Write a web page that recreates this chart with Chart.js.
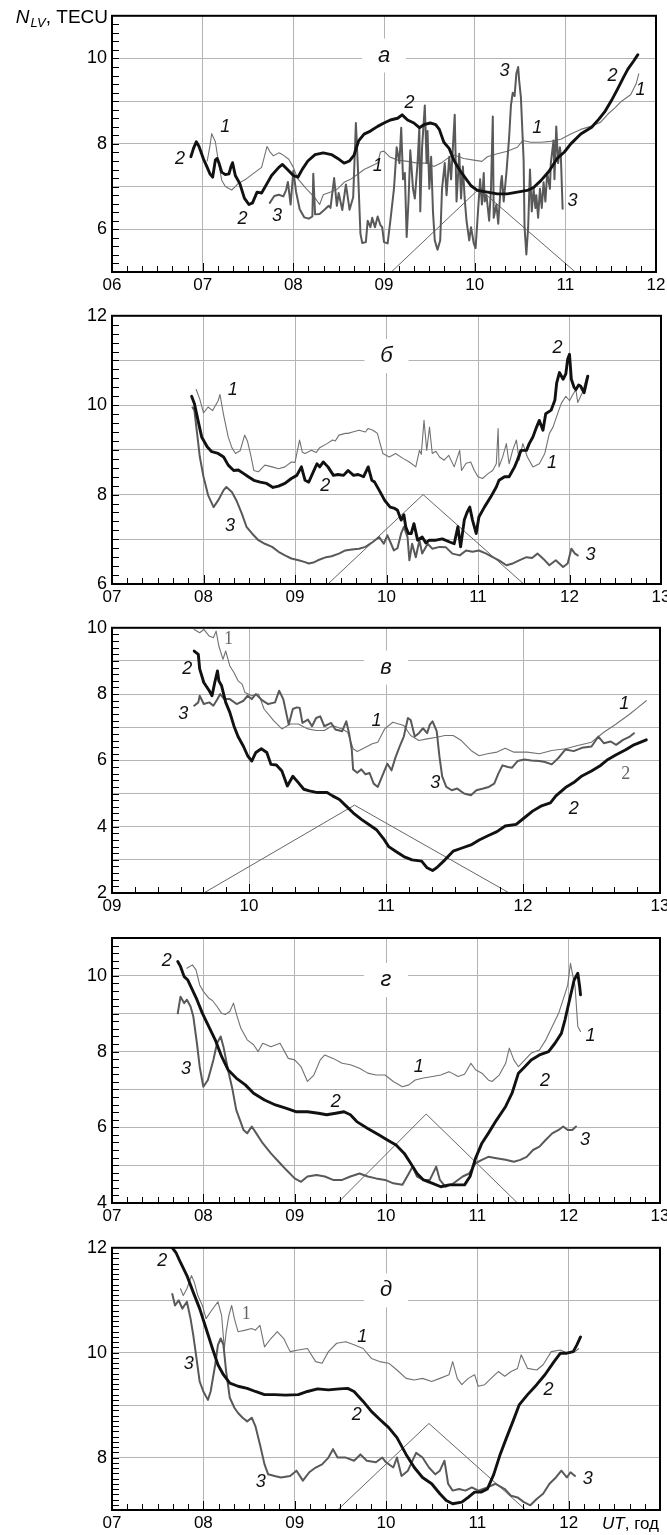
<!DOCTYPE html>
<html><head><meta charset="utf-8">
<script src="https://cdn.jsdelivr.net/npm/chart.js@4.4.1/dist/chart.umd.min.js"></script>
<style>
html,body{margin:0;padding:0;background:#fff;width:667px;height:1535px;overflow:hidden;position:relative}
canvas{position:absolute;left:0}
</style>
</head><body>
<script>
// ---------- DATA (time UT hours, N_LV TECU) ----------
// Panel а
const A1 = [[7.05,7.60],[7.08,7.95],[7.10,8.24],[7.14,8.05],[7.18,7.50],[7.21,7.15],[7.25,7.00],[7.32,6.92],[7.36,7.00],[7.39,7.07],[7.48,7.18],[7.58,7.34],[7.65,7.45],[7.71,7.94],[7.74,7.82],[7.78,7.72],[7.84,7.79],[7.88,7.75],[7.95,7.64],[8.00,7.45],[8.05,7.18],[8.14,6.96],[8.24,6.73],[8.29,6.58],[8.33,6.81],[8.42,6.88],[8.49,6.95],[8.56,7.10],[8.63,7.17],[8.71,7.29],[8.78,7.40],[8.85,7.47],[8.93,7.55],[8.96,7.81],[9.00,7.83],[9.06,7.70],[9.15,7.62],[9.26,7.59],[9.37,7.55],[9.48,7.55],[9.55,7.47],[9.63,7.55],[9.70,7.66],[9.77,7.74],[9.88,7.66],[9.99,7.62],[10.08,7.59],[10.14,7.70],[10.25,7.77],[10.36,7.83],[10.47,7.92],[10.53,8.08],[10.62,8.04],[10.73,8.04],[10.84,8.06],[10.95,8.11],[11.06,8.23],[11.17,8.34],[11.28,8.41],[11.39,8.51],[11.47,8.70],[11.55,8.85],[11.62,9.00],[11.72,9.15],[11.78,9.40],[11.81,9.64]];
const A2 = [[6.87,7.70],[6.90,7.90],[6.93,8.05],[6.96,7.94],[7.01,7.64],[7.05,7.45],[7.08,7.30],[7.11,7.22],[7.14,7.62],[7.16,7.66],[7.18,7.55],[7.21,7.34],[7.25,7.28],[7.29,7.30],[7.31,7.45],[7.33,7.56],[7.36,7.26],[7.41,7.07],[7.46,6.73],[7.51,6.58],[7.55,6.62],[7.60,6.87],[7.65,6.85],[7.72,7.11],[7.76,7.26],[7.84,7.45],[7.88,7.52],[7.93,7.41],[8.00,7.26],[8.05,7.22],[8.10,7.41],[8.16,7.60],[8.24,7.75],[8.33,7.79],[8.42,7.75],[8.49,7.66],[8.56,7.55],[8.62,7.60],[8.67,7.74],[8.72,8.07],[8.78,8.23],[8.85,8.30],[8.93,8.41],[9.00,8.49],[9.07,8.56],[9.15,8.60],[9.20,8.68],[9.26,8.56],[9.33,8.49],[9.39,8.38],[9.44,8.45],[9.51,8.49],[9.57,8.45],[9.61,8.34],[9.66,8.04],[9.72,7.89],[9.77,7.62],[9.83,7.40],[9.88,7.25],[9.96,7.02],[10.03,6.91],[10.14,6.87],[10.25,6.83],[10.36,6.83],[10.47,6.87],[10.58,6.91],[10.65,6.98],[10.73,7.14],[10.82,7.36],[10.91,7.66],[10.99,7.81],[11.06,8.00],[11.17,8.23],[11.29,8.39],[11.37,8.58],[11.44,8.77],[11.51,9.02],[11.58,9.30],[11.64,9.55],[11.69,9.75],[11.75,9.93],[11.80,10.09]];
const A3 = [[7.74,6.62],[7.79,6.78],[7.84,6.81],[7.89,6.77],[7.92,6.92],[7.94,7.11],[7.97,6.58],[8.00,7.37],[8.03,6.88],[8.07,6.47],[8.12,6.28],[8.17,6.25],[8.21,6.30],[8.22,7.30],[8.24,6.35],[8.29,6.36],[8.34,6.45],[8.39,6.55],[8.41,6.50],[8.45,7.20],[8.48,6.55],[8.50,6.85],[8.54,6.45],[8.58,7.05],[8.62,6.46],[8.66,6.75],[8.69,8.49],[8.71,7.55],[8.74,5.90],[8.76,5.68],[8.80,5.70],[8.82,6.20],[8.85,6.05],[8.87,6.27],[8.90,6.05],[8.93,6.30],[8.96,6.10],[8.98,6.05],[9.00,5.70],[9.04,5.67],[9.07,6.20],[9.11,6.95],[9.14,7.92],[9.17,7.55],[9.19,8.38],[9.21,7.17],[9.23,7.32],[9.25,5.82],[9.27,6.65],[9.29,7.85],[9.32,6.95],[9.34,6.72],[9.37,7.55],[9.39,8.38],[9.40,6.42],[9.42,7.92],[9.45,8.90],[9.47,7.55],[9.48,8.30],[9.50,6.95],[9.52,7.70],[9.54,6.42],[9.56,5.74],[9.59,5.52],[9.62,5.74],[9.64,6.95],[9.67,7.55],[9.69,6.80],[9.72,7.70],[9.74,7.17],[9.75,7.55],[9.78,8.68],[9.80,6.65],[9.83,7.77],[9.85,6.72],[9.87,7.47],[9.89,6.72],[9.91,6.20],[9.94,5.74],[9.96,6.05],[9.99,5.67],[10.01,5.56],[10.03,6.20],[10.06,7.17],[10.08,6.58],[10.10,7.32],[10.11,6.65],[10.13,6.80],[10.16,6.20],[10.18,6.95],[10.20,8.64],[10.21,6.27],[10.24,6.58],[10.26,6.13],[10.29,7.10],[10.30,7.25],[10.32,6.65],[10.35,7.32],[10.38,8.15],[10.40,8.90],[10.42,9.20],[10.44,9.12],[10.46,9.65],[10.48,9.80],[10.49,9.50],[10.51,9.09],[10.54,7.62],[10.55,6.05],[10.57,5.41],[10.59,6.05],[10.61,7.40],[10.63,6.42],[10.65,6.95],[10.67,6.50],[10.68,6.80],[10.70,6.27],[10.72,6.95],[10.74,6.50],[10.76,7.10],[10.78,6.65],[10.80,7.32],[10.83,6.95],[10.84,7.55],[10.87,8.08],[10.88,7.17],[10.90,8.41],[10.92,7.55],[10.94,7.92],[10.95,7.75],[10.97,6.48]];
const ATRI = [[9.08,5],[10.05,6.95],[11.11,5]];
// Panel б
const B1 = [[7.92,10.35],[7.96,10.13],[8.00,9.83],[8.05,9.96],[8.10,9.88],[8.16,10.10],[8.18,10.24],[8.22,9.78],[8.27,9.29],[8.31,9.05],[8.35,8.92],[8.40,8.98],[8.45,9.33],[8.48,9.20],[8.52,8.85],[8.55,8.54],[8.60,8.51],[8.67,8.66],[8.75,8.62],[8.82,8.58],[8.89,8.62],[8.96,8.73],[9.00,8.72],[9.05,9.22],[9.08,8.95],[9.11,8.92],[9.18,8.99],[9.23,8.94],[9.27,9.05],[9.35,9.14],[9.41,9.22],[9.44,9.20],[9.48,9.33],[9.55,9.37],[9.58,9.37],[9.63,9.40],[9.70,9.44],[9.77,9.40],[9.80,9.48],[9.85,9.44],[9.88,9.40],[9.90,9.37],[9.96,8.92],[10.03,8.84],[10.10,8.92],[10.18,8.81],[10.25,8.73],[10.32,8.62],[10.36,8.99],[10.38,8.90],[10.41,9.66],[10.44,8.99],[10.47,9.51],[10.50,8.92],[10.54,8.97],[10.58,8.84],[10.63,8.77],[10.68,8.88],[10.74,8.62],[10.80,8.99],[10.82,8.54],[10.87,8.70],[10.92,8.73],[10.96,8.54],[11.00,8.40],[11.05,8.36],[11.11,8.47],[11.16,8.54],[11.20,8.69],[11.22,9.48],[11.23,8.62],[11.27,8.85],[11.31,9.14],[11.34,8.69],[11.38,9.00],[11.42,9.22],[11.45,8.77],[11.49,9.14],[11.54,8.84],[11.60,8.62],[11.67,8.69],[11.73,8.92],[11.78,9.37],[11.82,9.51],[11.87,9.81],[11.91,10.04],[11.96,10.20],[12.00,10.10],[12.04,10.25],[12.07,10.35],[12.09,10.06],[12.14,10.28],[12.19,10.65]];
const B2 = [[7.87,10.20],[7.90,10.04],[7.94,9.66],[7.98,9.29],[8.04,9.07],[8.09,8.96],[8.16,8.92],[8.22,8.84],[8.27,8.66],[8.33,8.54],[8.38,8.55],[8.44,8.47],[8.49,8.40],[8.55,8.32],[8.62,8.28],[8.69,8.25],[8.76,8.16],[8.82,8.19],[8.89,8.25],[8.96,8.36],[9.02,8.43],[9.07,8.62],[9.11,8.32],[9.15,8.28],[9.20,8.51],[9.24,8.69],[9.27,8.62],[9.31,8.73],[9.36,8.62],[9.42,8.43],[9.47,8.45],[9.53,8.43],[9.58,8.54],[9.64,8.43],[9.69,8.45],[9.75,8.40],[9.80,8.62],[9.84,8.32],[9.87,8.28],[9.93,8.06],[9.98,7.87],[10.04,7.72],[10.09,7.69],[10.12,7.65],[10.16,7.43],[10.19,7.55],[10.21,7.28],[10.24,7.13],[10.27,7.13],[10.30,7.35],[10.34,6.98],[10.39,7.05],[10.43,6.92],[10.47,6.98],[10.54,6.98],[10.61,7.01],[10.69,6.94],[10.74,6.90],[10.78,7.28],[10.81,6.83],[10.85,7.43],[10.88,7.60],[10.91,7.72],[10.94,7.43],[10.98,7.13],[11.01,7.50],[11.07,7.72],[11.14,7.95],[11.20,8.17],[11.23,8.32],[11.29,8.40],[11.34,8.40],[11.40,8.62],[11.43,8.77],[11.47,8.99],[11.53,8.99],[11.56,9.14],[11.60,9.29],[11.64,9.51],[11.67,9.66],[11.71,9.44],[11.74,9.81],[11.80,9.89],[11.84,10.11],[11.86,10.50],[11.89,10.73],[11.93,10.58],[11.96,10.70],[11.98,11.03],[12.00,11.14],[12.02,10.58],[12.05,10.40],[12.07,10.35],[12.10,10.45],[12.12,10.43],[12.16,10.28],[12.20,10.65]];
const B3 = [[7.88,9.95],[7.90,9.89],[7.93,9.37],[7.96,8.84],[8.00,8.40],[8.05,7.99],[8.11,7.72],[8.16,7.87],[8.22,8.10],[8.25,8.17],[8.31,8.06],[8.36,7.87],[8.42,7.57],[8.47,7.28],[8.53,7.13],[8.60,6.98],[8.67,6.90],[8.75,6.83],[8.82,6.72],[8.89,6.64],[8.96,6.57],[9.04,6.53],[9.11,6.49],[9.15,6.46],[9.20,6.48],[9.25,6.53],[9.34,6.60],[9.40,6.62],[9.48,6.68],[9.55,6.75],[9.62,6.77],[9.70,6.79],[9.77,6.83],[9.85,6.94],[9.92,7.05],[9.97,6.90],[10.01,7.09],[10.05,6.90],[10.08,6.75],[10.12,6.80],[10.16,7.13],[10.19,7.28],[10.23,7.05],[10.25,6.53],[10.28,6.90],[10.32,6.60],[10.36,6.98],[10.39,6.68],[10.45,6.90],[10.50,6.79],[10.58,6.83],[10.65,6.82],[10.72,6.68],[10.80,6.64],[10.87,6.75],[10.94,6.72],[11.01,6.75],[11.09,6.68],[11.16,6.60],[11.23,6.53],[11.31,6.42],[11.38,6.46],[11.45,6.53],[11.53,6.60],[11.59,6.58],[11.65,6.68],[11.73,6.53],[11.78,6.42],[11.85,6.53],[11.93,6.38],[11.98,6.46],[12.02,6.79],[12.06,6.68],[12.09,6.64]];
const BTRI = [[9.36,6],[10.40,8.0],[11.50,6]];
// Panel в
const V1 = [[9.60,9.95],[9.64,9.85],[9.67,9.95],[9.71,9.75],[9.74,9.70],[9.76,9.90],[9.78,9.45],[9.81,9.05],[9.83,9.30],[9.86,8.85],[9.89,8.65],[9.92,8.40],[9.95,8.30],[9.97,8.05],[10.02,7.95],[10.07,8.00],[10.11,7.55],[10.18,7.20],[10.24,6.95],[10.30,7.10],[10.36,7.10],[10.43,6.95],[10.49,6.90],[10.55,6.90],[10.61,7.05],[10.68,6.95],[10.72,6.85],[10.76,6.35],[10.79,6.27],[10.83,6.35],[10.90,6.50],[10.94,6.55],[10.99,6.95],[11.05,7.15],[11.13,7.05],[11.18,6.75],[11.24,6.60],[11.30,6.65],[11.37,6.70],[11.43,6.75],[11.49,6.75],[11.55,6.60],[11.62,6.30],[11.68,6.14],[11.74,6.20],[11.81,6.25],[11.87,6.37],[11.93,6.25],[12.03,6.25],[12.12,6.20],[12.21,6.30],[12.31,6.35],[12.40,6.45],[12.50,6.55],[12.59,6.85],[12.68,7.10],[12.78,7.40],[12.84,7.60],[12.90,7.80]];
const V2 = [[9.60,9.30],[9.63,9.20],[9.64,8.76],[9.67,8.35],[9.71,8.10],[9.73,7.95],[9.75,8.35],[9.77,8.70],[9.78,8.40],[9.80,8.25],[9.83,7.75],[9.86,7.45],[9.89,7.04],[9.92,6.72],[9.96,6.42],[9.99,6.14],[10.02,5.98],[10.05,6.24],[10.09,6.35],[10.13,6.24],[10.16,5.88],[10.20,5.86],[10.24,5.68],[10.28,5.23],[10.32,5.52],[10.36,5.33],[10.40,5.13],[10.44,5.08],[10.50,5.03],[10.57,5.03],[10.61,4.93],[10.66,4.82],[10.71,4.62],[10.76,4.42],[10.82,4.22],[10.88,4.05],[10.93,3.91],[10.98,3.65],[11.02,3.40],[11.07,3.26],[11.13,3.10],[11.19,3.00],[11.26,2.96],[11.30,2.76],[11.34,2.68],[11.37,2.76],[11.43,3.00],[11.49,3.26],[11.55,3.35],[11.62,3.45],[11.68,3.60],[11.74,3.72],[11.81,3.85],[11.87,4.02],[11.95,4.07],[12.01,4.27],[12.07,4.47],[12.13,4.62],[12.20,4.72],[12.24,4.93],[12.31,5.18],[12.37,5.33],[12.43,5.53],[12.50,5.68],[12.56,5.83],[12.62,6.03],[12.68,6.17],[12.75,6.32],[12.81,6.47],[12.90,6.62]];
const V3 = [[9.60,7.65],[9.63,7.75],[9.64,7.95],[9.67,7.70],[9.71,7.75],[9.74,7.65],[9.77,7.85],[9.79,8.00],[9.82,7.85],[9.86,7.85],[9.91,7.70],[9.96,7.80],[9.99,7.95],[10.02,7.85],[10.05,8.00],[10.10,7.80],[10.14,7.70],[10.19,7.75],[10.22,8.10],[10.25,7.85],[10.29,7.08],[10.32,7.55],[10.35,7.60],[10.37,7.58],[10.39,7.13],[10.43,7.23],[10.46,7.03],[10.49,7.28],[10.52,7.33],[10.55,7.03],[10.60,7.13],[10.63,6.93],[10.68,6.88],[10.71,7.18],[10.73,6.83],[10.75,6.33],[10.76,5.73],[10.79,5.63],[10.82,5.73],[10.85,5.58],[10.88,5.62],[10.91,5.30],[10.94,5.20],[10.97,5.50],[11.01,5.90],[11.04,5.70],[11.07,6.10],[11.10,6.42],[11.13,6.72],[11.16,7.28],[11.18,7.22],[11.21,6.72],[11.24,6.82],[11.27,6.97],[11.30,6.82],[11.32,7.08],[11.34,7.18],[11.37,6.88],[11.39,6.12],[11.41,5.52],[11.44,5.20],[11.48,5.10],[11.52,5.15],[11.57,5.00],[11.62,4.95],[11.66,5.10],[11.71,5.15],[11.75,5.20],[11.79,5.30],[11.82,5.60],[11.85,5.85],[11.89,5.80],[11.92,5.78],[11.96,5.98],[12.01,6.03],[12.06,6.00],[12.12,5.98],[12.16,5.95],[12.21,5.88],[12.26,6.08],[12.31,6.33],[12.37,6.28],[12.43,6.38],[12.50,6.42],[12.55,6.72],[12.59,6.52],[12.64,6.57],[12.68,6.47],[12.73,6.62],[12.78,6.72],[12.81,6.82]];
const VTRI = [[9.67,2],[10.77,4.65],[11.90,2]];
// Panel г
const G1 = [[7.82,10.20],[7.88,10.29],[7.92,10.16],[7.96,9.76],[8.00,9.59],[8.06,9.41],[8.10,9.35],[8.15,9.19],[8.20,9.01],[8.24,8.98],[8.29,9.06],[8.33,9.28],[8.36,9.01],[8.41,8.62],[8.48,8.31],[8.55,8.18],[8.60,8.00],[8.65,8.22],[8.74,8.13],[8.84,8.22],[8.93,7.82],[9.00,7.78],[9.07,7.60],[9.14,7.21],[9.21,7.38],[9.28,7.78],[9.33,7.91],[9.42,7.82],[9.52,7.69],[9.61,7.65],[9.71,7.56],[9.80,7.43],[9.89,7.38],[9.99,7.38],[10.08,7.21],[10.18,7.07],[10.25,7.12],[10.32,7.25],[10.41,7.30],[10.51,7.34],[10.60,7.38],[10.69,7.47],[10.79,7.34],[10.86,7.40],[10.93,7.69],[10.98,7.52],[11.05,7.43],[11.12,7.25],[11.16,7.21],[11.24,7.38],[11.31,7.69],[11.35,8.09],[11.40,7.78],[11.45,7.60],[11.52,7.78],[11.59,7.96],[11.68,8.04],[11.75,8.31],[11.82,8.66],[11.89,9.01],[11.95,9.45],[11.99,9.76],[12.02,10.33],[12.04,10.07],[12.07,9.72],[12.10,8.66],[12.13,8.53]];
const G2 = [[7.72,10.38],[7.75,10.25],[7.79,9.98],[7.83,9.89],[7.88,9.63],[7.93,9.37],[7.99,9.01],[8.06,8.66],[8.13,8.31],[8.20,7.87],[8.27,7.52],[8.36,7.30],[8.46,7.12],[8.55,6.90],[8.67,6.72],[8.79,6.59],[8.91,6.50],[9.02,6.41],[9.14,6.41],[9.26,6.37],[9.35,6.33],[9.45,6.37],[9.54,6.41],[9.61,6.33],[9.68,6.15],[9.80,5.97],[9.92,5.80],[10.01,5.67],[10.11,5.53],[10.20,5.31],[10.27,5.05],[10.34,4.78],[10.41,4.61],[10.51,4.52],[10.60,4.43],[10.69,4.48],[10.79,4.48],[10.86,4.48],[10.92,4.70],[10.98,5.18],[11.05,5.58],[11.12,5.84],[11.21,6.19],[11.31,6.55],[11.38,6.90],[11.45,7.43],[11.52,7.60],[11.59,7.78],[11.68,7.91],[11.78,8.00],[11.85,8.22],[11.92,8.48],[11.96,8.84],[12.01,9.37],[12.06,9.89],[12.10,10.07],[12.12,9.72],[12.13,9.50]];
const G3 = [[7.72,9.01],[7.75,9.45],[7.79,9.28],[7.82,9.37],[7.86,9.19],[7.89,8.93],[7.93,8.22],[7.96,7.60],[8.00,7.07],[8.05,7.25],[8.11,7.78],[8.15,8.22],[8.19,8.40],[8.22,8.13],[8.27,7.52],[8.32,6.99],[8.36,6.46],[8.44,5.93],[8.48,5.84],[8.53,6.02],[8.58,5.84],[8.65,5.58],[8.74,5.31],[8.84,5.05],[8.91,4.87],[9.00,4.65],[9.07,4.56],[9.14,4.70],[9.24,4.74],[9.33,4.70],[9.42,4.61],[9.52,4.61],[9.61,4.70],[9.71,4.78],[9.80,4.70],[9.89,4.65],[9.99,4.61],[10.08,4.52],[10.18,4.48],[10.25,4.78],[10.29,4.96],[10.34,4.70],[10.41,4.61],[10.48,4.61],[10.55,4.96],[10.59,4.61],[10.65,4.43],[10.74,4.52],[10.84,4.70],[10.91,4.78],[10.98,5.05],[11.05,5.14],[11.12,5.22],[11.21,5.18],[11.31,5.14],[11.40,5.09],[11.47,5.14],[11.54,5.22],[11.61,5.40],[11.68,5.49],[11.75,5.67],[11.82,5.84],[11.89,5.93],[11.94,6.02],[11.99,5.93],[12.04,5.93],[12.08,6.02]];
const GTRI = [[9.47,4],[10.44,6.35],[11.44,4]];
// Panel д
const D1 = [[7.75,11.22],[7.78,11.09],[7.82,11.22],[7.87,11.47],[7.90,11.35],[7.94,11.09],[7.99,10.90],[8.03,10.65],[8.08,10.78],[8.13,10.90],[8.16,10.97],[8.20,10.71],[8.23,10.08],[8.25,10.40],[8.28,10.71],[8.31,10.90],[8.34,10.65],[8.38,10.40],[8.46,10.43],[8.53,10.46],[8.57,10.43],[8.62,10.52],[8.67,10.11],[8.74,10.27],[8.81,10.40],[8.88,10.27],[8.95,10.02],[9.04,10.05],[9.14,10.08],[9.23,9.83],[9.30,9.80],[9.37,10.02],[9.46,10.18],[9.56,10.21],[9.65,10.15],[9.75,10.08],[9.84,9.89],[9.93,9.83],[10.03,9.80],[10.12,9.67],[10.22,9.51],[10.31,9.48],[10.40,9.51],[10.50,9.45],[10.59,9.51],[10.69,9.58],[10.73,9.83],[10.78,9.51],[10.83,9.39],[10.90,9.51],[10.97,9.58],[11.01,9.36],[11.08,9.39],[11.15,9.51],[11.23,9.64],[11.30,9.55],[11.37,9.64],[11.44,9.70],[11.48,9.96],[11.55,9.70],[11.65,9.67],[11.72,9.77],[11.81,10.02],[11.91,10.05],[11.99,9.99],[12.07,10.02],[12.11,10.08]];
const D2 = [[7.66,12.00],[7.70,11.91],[7.75,11.72],[7.82,11.47],[7.89,11.15],[7.96,10.84],[8.03,10.46],[8.10,10.08],[8.16,9.77],[8.22,9.58],[8.29,9.42],[8.38,9.36],[8.48,9.32],[8.57,9.26],[8.67,9.20],[8.78,9.20],[8.90,9.19],[9.04,9.20],[9.14,9.26],[9.25,9.31],[9.37,9.29],[9.49,9.31],[9.58,9.32],[9.65,9.26],[9.75,9.07],[9.84,8.88],[9.93,8.73],[10.03,8.57],[10.12,8.38],[10.22,8.06],[10.31,7.81],[10.40,7.62],[10.50,7.50],[10.59,7.31],[10.66,7.18],[10.73,7.12],[10.83,7.15],[10.90,7.24],[10.97,7.34],[11.04,7.34],[11.11,7.40],[11.18,7.68],[11.25,8.06],[11.32,8.38],[11.39,8.69],[11.46,9.01],[11.55,9.20],[11.65,9.39],[11.74,9.58],[11.84,9.83],[11.91,9.99],[11.98,9.99],[12.05,10.02],[12.09,10.15],[12.13,10.30]];
const D3 = [[7.66,11.12],[7.69,10.90],[7.73,11.00],[7.77,10.84],[7.82,10.97],[7.86,10.65],[7.89,10.33],[7.92,9.96],[7.96,9.45],[8.00,9.26],[8.05,9.10],[8.08,9.26],[8.13,9.77],[8.16,10.15],[8.19,10.27],[8.22,10.15],[8.25,9.64],[8.29,9.14],[8.34,8.95],[8.38,8.85],[8.43,8.76],[8.48,8.69],[8.53,8.76],[8.57,8.60],[8.62,8.25],[8.67,7.87],[8.71,7.68],[8.78,7.65],[8.85,7.62],[8.95,7.65],[9.02,7.75],[9.09,7.56],[9.16,7.72],[9.23,7.81],[9.30,7.87],[9.37,8.00],[9.42,8.16],[9.47,8.00],[9.56,8.00],[9.65,7.94],[9.72,8.06],[9.79,7.94],[9.89,7.91],[9.96,8.00],[10.00,7.91],[10.08,7.81],[10.12,8.00],[10.17,7.65],[10.24,7.75],[10.29,7.94],[10.33,8.09],[10.40,8.00],[10.47,7.81],[10.54,7.68],[10.59,7.75],[10.64,7.94],[10.68,7.50],[10.73,7.37],[10.80,7.40],[10.87,7.37],[10.94,7.43],[11.01,7.37],[11.11,7.43],[11.20,7.50],[11.30,7.40],[11.37,7.27],[11.44,7.24],[11.51,7.15],[11.58,7.09],[11.65,7.21],[11.72,7.31],[11.79,7.50],[11.86,7.62],[11.92,7.75],[11.98,7.62],[12.02,7.72],[12.07,7.65]];
const DTRI = [[9.47,7],[10.47,8.65],[11.53,7]];

// Curve-label text and positions (data coordinates)
const LABELS_A = [['1',7.25,8.39],['2',6.75,7.64],['2',7.44,6.24],['3',7.82,6.32],['1',8.93,7.49],['2',9.28,8.96],['3',10.33,9.71],['1',10.69,8.38],['3',11.08,6.66],['2',11.52,9.58],['1',11.83,9.26]];
const LABELS_B = [['1',8.32,10.35],['2',11.87,11.29],['1',11.81,8.71],['2',9.33,8.19],['3',8.29,7.29],['3',12.23,6.65]];
const LABELS_V = [['1',9.85,9.66,'g'],['2',9.55,8.76],['3',9.52,7.40],['1',10.93,7.19],['3',11.36,5.33],['1',12.74,7.70],['2',12.75,5.58,'g'],['2',12.37,4.52]];
const LABELS_G = [['2',7.60,10.38],['3',7.81,7.53],['1',10.36,7.60],['2',9.45,6.68],['1',12.24,8.40],['2',11.74,7.21],['3',12.18,5.67]];
const LABELS_D = [['2',7.55,11.75],['3',7.84,9.78],['1',8.47,10.74,'g'],['1',9.74,10.30],['2',9.68,8.82],['3',8.63,7.53],['2',11.78,9.29],['3',12.21,7.59]];

const FONT = '"Liberation Sans", Arial, Helvetica, sans-serif';
Chart.defaults.font.family = FONT;

const PANELS = [
  {id:'a', cTop:0,    top:8,    bottom:272,  right:656, xmin:6, xmax:12, ymin:5, ymax:11, ym:0.2, c1:A1, c2:A2, c3:A3, tri:ATRI, labels:LABELS_A, letter:['а',9,10.07], head:true},
  {id:'b', cTop:300,  top:315,  bottom:584,  right:661, xmin:7, xmax:13, ymin:6, ymax:12, ym:0.2, c1:B1, c2:B2, c3:B3, tri:BTRI, labels:LABELS_B, letter:['б',10,11.1]},
  {id:'v', cTop:612,  top:627,  bottom:893,  right:660, xmin:9, xmax:13, ymin:2, ymax:10, ym:0.2, c1:V1, c2:V2, c3:V3, tri:VTRI, labels:LABELS_V, letter:['в',11,8.8]},
  {id:'g', cTop:922,  top:938,  bottom:1203, right:660, xmin:7, xmax:13, ymin:4, ymax:11, ym:0.2, c1:G1, c2:G2, c3:G3, tri:GTRI, labels:LABELS_G, letter:['г',10,9.89]},
  {id:'d', cTop:1232, top:1247, bottom:1510, right:660, xmin:7, xmax:13, ymin:7, ymax:12, ym:0.1, c1:D1, c2:D2, c3:D3, tri:DTRI, labels:LABELS_D, letter:['д',10,11.19], foot:true}
];

const pts = a => a.map(([x,y]) => ({x, y}));

function decor(p) {
  return {
    id: 'decor_' + p.id,
    beforeDatasetsDraw(chart) {
      const {ctx, scales:{x, y}} = chart;
      const cx = x.getPixelForValue(p.letter[1]), cy = y.getPixelForValue(p.letter[2]);
      ctx.save();
      ctx.fillStyle = '#fff';
      ctx.fillRect(cx - 22, cy - 17, 44, 34);
      ctx.fillStyle = '#111';
      ctx.font = 'italic 22px ' + FONT;
      ctx.textAlign = 'center'; ctx.textBaseline = 'middle';
      ctx.fillText(p.letter[0], cx, cy);
      ctx.restore();
    },
    afterDatasetsDraw(chart) {
      const {ctx, chartArea:a, scales:{x, y}} = chart;
      ctx.save();
      ctx.strokeStyle = '#000'; ctx.lineWidth = 1;
      ctx.beginPath();
      const nx = Math.round((p.xmax - p.xmin) * 6);
      for (let i = 1; i < nx; i++) {
        const px = Math.round(x.getPixelForValue(p.xmin + i / 6)) + 0.5;
        ctx.moveTo(px, a.bottom); ctx.lineTo(px, a.bottom - (i % 6 === 0 ? 9 : 6));
      }
      const ny = Math.round((p.ymax - p.ymin) / p.ym);
      for (let j = 1; j < ny; j++) {
        const py = Math.round(y.getPixelForValue(p.ymin + j * p.ym)) + 0.5;
        ctx.moveTo(a.left, py); ctx.lineTo(a.left + 7, py);
      }
      ctx.stroke();
      ctx.lineWidth = 2;
      ctx.strokeRect(a.left, a.top, a.right - a.left, a.bottom - a.top);
      ctx.textAlign = 'center'; ctx.textBaseline = 'middle';
      for (const [t, lx, ly, st] of p.labels) {
        if (st === 'g') { ctx.font = '18px "Liberation Serif", "Times New Roman", serif'; ctx.fillStyle = '#666'; }
        else { ctx.font = 'italic 18px ' + FONT; ctx.fillStyle = '#111'; }
        ctx.fillText(t, x.getPixelForValue(lx), y.getPixelForValue(ly));
      }
      ctx.restore();
    },
    afterDraw(chart) {
      const {ctx, chartArea:a} = chart;
      ctx.save();
      ctx.fillStyle = '#000'; ctx.textBaseline = 'alphabetic'; ctx.textAlign = 'left';
      if (p.head) {
        const f1 = 'italic 19px ' + FONT, f2 = 'italic 13px ' + FONT, f3 = '19px ' + FONT;
        ctx.font = f1; const w1 = ctx.measureText('N').width;
        ctx.font = f2; const w2 = ctx.measureText('LV').width;
        ctx.font = f3; const w3 = ctx.measureText(', TECU').width;
        let sx = a.left - 4 - (w1 + w2 + w3 + 1);
        const base = 23;
        ctx.font = f1; ctx.fillText('N', sx, base); sx += w1 + 1;
        ctx.font = f2; ctx.fillText('LV', sx, base + 4); sx += w2;
        ctx.font = f3; ctx.fillText(', TECU', sx, base);
      }
      if (p.foot) {
        const f1 = 'italic 17px ' + FONT, f2 = '17px ' + FONT;
        ctx.font = f1; const w1 = ctx.measureText('UT').width;
        ctx.font = f2; const w2 = ctx.measureText(', год').width;
        let sx = a.right - 1 - (w1 + w2);
        const base = a.bottom + 19;
        ctx.font = f1; ctx.fillText('UT', sx, base); sx += w1;
        ctx.font = f2; ctx.fillText(', год', sx, base);
      }
      ctx.restore();
    }
  };
}

function build(p) {
  const W = 700, H = p.bottom - p.cTop + 25;
  const cv = document.createElement('canvas');
  cv.width = W; cv.height = H;
  cv.style.width = W + 'px'; cv.style.height = H + 'px'; cv.style.top = p.cTop + 'px';
  document.body.appendChild(cv);
  const xh = p.cTop + H - p.bottom;
  const base = {pointRadius:0, pointHoverRadius:0, tension:0, fill:false, borderJoinStyle:'round', borderCapStyle:'round'};
  new Chart(cv.getContext('2d'), {
    type: 'line',
    data: { datasets: [
      Object.assign({label:'2', data:pts(p.c2), borderColor:'#111111', borderWidth:2.9, order:0}, base),
      Object.assign({label:'3', data:pts(p.c3), borderColor:'#595959', borderWidth:2.0, order:1}, base),
      Object.assign({label:'1', data:pts(p.c1), borderColor:'#727272', borderWidth:1.1, order:2}, base),
      Object.assign({label:'tri', data:pts(p.tri), borderColor:'#666666', borderWidth:1, order:3}, base)
    ]},
    options: {
      responsive:false, maintainAspectRatio:false, animation:false, devicePixelRatio:1, events:[],
      layout:{padding:{left:0, top:p.top - p.cTop, right:W - p.right, bottom:0}},
      scales: {
        x: {type:'linear', min:p.xmin, max:p.xmax,
            afterFit: s => { s.height = xh; },
            ticks:{stepSize:1, autoSkip:false, maxRotation:0, padding:3, color:'#000', font:{size:17},
                   callback: v => (p.foot && v === p.xmax) ? '' : String(v).padStart(2, '0')},
            grid:{color:'#b4b4b4', lineWidth:1, drawTicks:false},
            border:{display:true, color:'#000', width:2}},
        y: {type:'linear', min:p.ymin, max:p.ymax,
            afterFit: s => { s.width = 112; },
            ticks:{stepSize:1, autoSkip:false, padding:5, color:'#000', font:{size:18},
                   callback: v => (v % 2 === 0 ? String(v) : '')},
            grid:{color:'#b4b4b4', lineWidth:1, drawTicks:false},
            border:{display:true, color:'#000', width:2}}
      },
      plugins:{legend:{display:false}, tooltip:{enabled:false}, title:{display:false}}
    },
    plugins:[decor(p)]
  });
}
PANELS.forEach(build);
</script>
</body></html>
